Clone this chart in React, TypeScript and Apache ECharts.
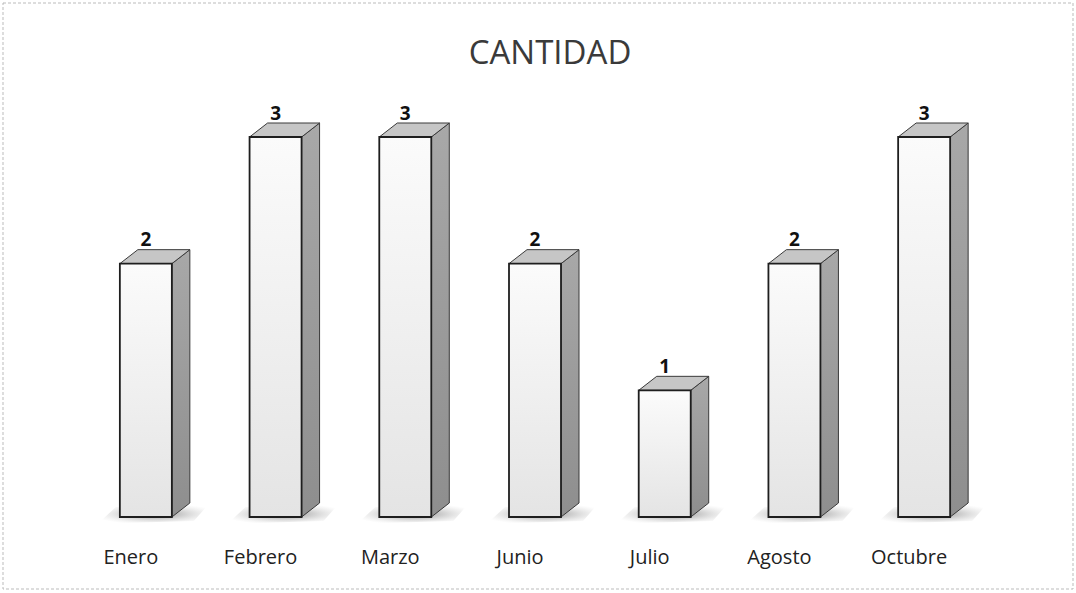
import React, { useEffect, useRef } from "react";
import * as echarts from "echarts";

const categories = ["Enero", "Febrero", "Marzo", "Junio", "Julio", "Agosto", "Octubre"];
const values = [2, 3, 3, 2, 1, 2, 3];
const titleText = "CANTIDAD";

export default function App() {
  const ref = useRef<HTMLDivElement>(null);
  useEffect(() => {
    if (!ref.current) return;
    const chart = echarts.init(ref.current, null, { renderer: "svg" });
    const W = 52, DX = 18, DY = 14;
    chart.setOption({
      animation: false,
      backgroundColor: "#ffffff",
      title: {
        text: titleText,
        left: 545,
        textAlign: "center",
        top: 30,
        textStyle: { fontFamily: "Open Sans", fontSize: 33, fontWeight: "normal", color: "#3a3a3a" },
      },
      grid: { left: 81, right: 87, top: 137, bottom: 76 },
      xAxis: {
        type: "category",
        data: categories,
        axisLine: { show: false },
        axisTick: { show: false },
        axisLabel: {
          interval: 0,
          hideOverlap: false,
          margin: 29,
          fontFamily: "Open Sans",
          fontSize: 20,
          color: "#222",
          formatter: (v: string) => "{a|" + v + "}",
          rich: { a: { fontFamily: "Open Sans", fontSize: 20, color: "#222", padding: [0, 30, 0, 0] } },
        },
      },
      yAxis: { type: "value", min: 0, max: 3, show: false, splitLine: { show: false } },
      graphic: [
        {
          type: "rect",
          shape: { x: 3, y: 3, width: 1070, height: 586 },
          style: { fill: "none", stroke: "#bbbbbb", lineWidth: 1, lineDash: [3, 2] },
          silent: true,
        },
      ],
      series: [
        {
          type: "custom",
          data: values.map((v, i) => [i, v]),
          encode: { x: 0, y: 1 },
          renderItem: (params: any, api: any) => {
            const idx = api.value(0);
            const val = api.value(1);
            const top = api.coord([idx, val]);
            const base = api.coord([idx, 0]);
            const l = top[0] - W / 2;
            const r = top[0] + W / 2;
            const yt = top[1];
            const yb = base[1];
            return {
              type: "group",
              children: [
                {
                  type: "polygon",
                  shape: {
                    points: [
                      [l - 18, yb + 3],
                      [l - 4, yb - 10],
                      [r + DX + 18, yb - 12],
                      [r + DX + 4, yb + 4],
                      [l, yb + 6],
                    ],
                  },
                  style: {
                    fill: new echarts.graphic.RadialGradient(0.5, 0.5, 0.6, [
                      { offset: 0, color: "rgba(90,90,90,0.75)" },
                      { offset: 1, color: "rgba(200,200,200,0)" },
                    ]),
                  },
                },
                {
                  type: "polygon",
                  shape: { points: [[r, yt], [r + DX, yt - DY], [r + DX, yb - DY], [r, yb]] },
                  style: {
                    fill: new echarts.graphic.LinearGradient(0, 0, 0, 1, [
                      { offset: 0, color: "#a8a8a8" },
                      { offset: 1, color: "#8e8e8e" },
                    ]),
                    stroke: "#3a3a3a",
                    lineWidth: 1,
                  },
                },
                {
                  type: "polygon",
                  shape: { points: [[l, yt], [r, yt], [r + DX, yt - DY], [l + DX, yt - DY]] },
                  style: { fill: "#c6c6c6", stroke: "#3a3a3a", lineWidth: 1 },
                },
                {
                  type: "rect",
                  shape: { x: l, y: yt, width: W, height: yb - yt },
                  style: {
                    fill: new echarts.graphic.LinearGradient(0, 0, 0, 1, [
                      { offset: 0, color: "#fbfbfb" },
                      { offset: 1, color: "#e4e4e4" },
                    ]),
                    stroke: "#1e1e1e",
                    lineWidth: 1.8,
                  },
                },
                {
                  type: "text",
                  style: {
                    text: String(val),
                    x: top[0],
                    y: yt - DY - 1,
                    align: "center",
                    verticalAlign: "bottom",
                    fontFamily: "Open Sans",
                    fontWeight: "bold",
                    fontSize: 19,
                    fill: "#111",
                  },
                },
              ],
            };
          },
        },
      ],
    });
    return () => chart.dispose();
  }, []);
  return (
    <div
      ref={ref}
      style={{ position: "fixed", left: 0, top: 0, width: 1076, height: 593 }}
    />
  );
}
